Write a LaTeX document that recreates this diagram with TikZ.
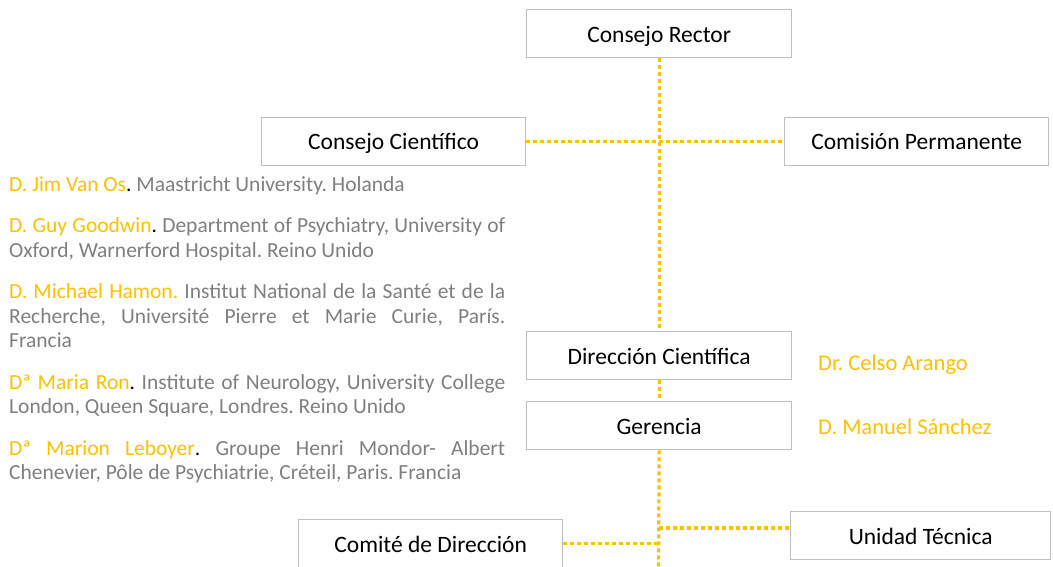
\documentclass[tikz,border=0pt]{standalone}
\usepackage{fontspec}
\setmainfont{Carlito}
\definecolor{gold}{HTML}{FFC000}
\definecolor{txtgray}{HTML}{7F7F7F}
\definecolor{boxgray}{HTML}{BFBFBF}
\frenchspacing
\begin{document}
\begin{tikzpicture}[x=1pt,y=-1pt,
  box/.style={draw=boxgray,line width=1.3pt,fill=white,anchor=north west,
    minimum width=#1,inner xsep=0pt,inner ysep=0pt,text height=32.7pt,text depth=15.3pt,
    font=\fontsize{23.5}{28}\selectfont},
  link/.style={draw=gold,line width=3.2pt,dash pattern=on 4pt off 3pt},
  person/.style={text=gold,font=\fontsize{22.5}{27}\selectfont,anchor=base west,inner sep=0pt}]
\useasboundingbox (0,0) rectangle (1053,566);
\clip (0,0) rectangle (1053,566);
% boxes
\node[box=265pt] (rector) at (526,9) {Consejo Rector};
\node[box=264pt] (cientifico) at (261,116.5) {Consejo Científico};
\node[box=264pt] (comision) at (784,116.5) {Comisión Permanente};
\node[box=265pt] (direccion) at (526,331) {Dirección Científica};
\node[box=265pt] (gerencia) at (526,401) {Gerencia};
\node[box=264pt] (comite) at (298,519) {Comité de Dirección};
\node[box=260pt] (unidad) at (790,511) {Unidad Técnica};
% names
\node[person] (celso) at (818,370) {Dr. Celso Arango};
\node[person] (manuel) at (818,434) {D. Manuel Sánchez};
% connectors
\coordinate (bottom) at (658.5,572);
\coordinate (ut) at (658.5,528);
\draw[link] (rector.south) -- (direccion.north);
\draw[link] (cientifico.east) -- (comision.west);
\draw[link] (direccion.south) -- (gerencia.north);
\draw[link] (gerencia.south) -- (bottom);
\draw[link] (comite.east) -- (comite.east -| gerencia.south);
\draw[link] (ut) -- (ut -| unidad.west);
% members text
\node[anchor=north west,inner sep=0pt,text width=496pt,align=justify,text=txtgray,
  font=\fontsize{21.5}{24.5}\selectfont] (members) at (9,175) {%
\setlength{\parskip}{17pt}\parindent=0pt\tolerance=10000\hyphenpenalty=10000\emergencystretch=20pt
\rule{0pt}{16pt}{\color{gold}D. Jim Van Os}{\color{black}.} Maastricht University. Holanda\par
{\color{gold}D. Guy Goodwin}{\color{black}.} Department of Psychiatry, University of\linebreak
Oxford, Warnerford Hospital. Reino Unido\par
{\color{gold}D. Michael Hamon.} Institut National de la Santé et de la\linebreak
Recherche, Université Pierre et Marie Curie, París.\linebreak
Francia\par
{\color{gold}Dª Maria Ron}{\color{black}.} Institute of Neurology, University College\linebreak
London, Queen Square, Londres. Reino Unido\par
{\color{gold}Dª Marion Leboyer}{\color{black}.} Groupe Henri Mondor- Albert\linebreak
Chenevier, Pôle de Psychiatrie, Créteil, Paris. Francia\par};
\end{tikzpicture}
\end{document}
